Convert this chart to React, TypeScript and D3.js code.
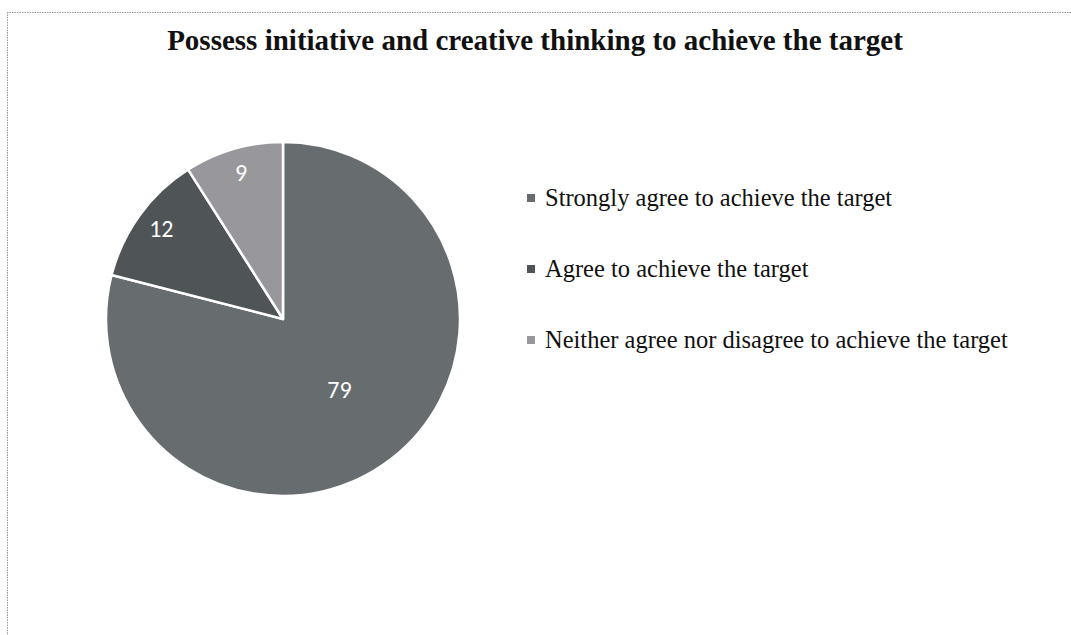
import React from "react";
import * as d3 from "d3";

const title = "Possess initiative and creative thinking to achieve the target";
const categories = [
  "Strongly agree to achieve the target",
  "Agree to achieve the target",
  "Neither agree nor disagree to achieve the target",
];
const values = [79, 12, 9];
const colors = ["#676d6f", "#4f5456", "#98989c"];

export default function App() {
  const W = 1071, H = 635;
  const cx = 283, cy = 319, r = 177;
  const pie = d3.pie<number>().sort(null).value((d) => d)(values);
  const arc = d3.arc<d3.PieArcDatum<number>>().innerRadius(0).outerRadius(r);
  const labelPos = (p: d3.PieArcDatum<number>) => {
    const lr = p.endAngle - p.startAngle > Math.PI ? r * 0.52 : r * 0.85;
    return d3.arc<d3.PieArcDatum<number>>().innerRadius(lr).outerRadius(lr).centroid(p);
  };
  const legendY = d3.scalePoint<string>().domain(categories).range([198, 340]);
  return (
    <svg width={W} height={H} style={{ position: "absolute", left: 0, top: 0, background: "#fff" }}>
      <line x1={7} y1={12.5} x2={W} y2={12.5} stroke="#999" strokeDasharray="1.5 1" strokeWidth={1} />
      <line x1={7.5} y1={12} x2={7.5} y2={H} stroke="#999" strokeDasharray="1.5 1" strokeWidth={1} />
      <text x={535} y={50} textAnchor="middle" fontFamily="'Liberation Serif', 'Times New Roman', serif" fontWeight="bold" fontSize={29} fill="#111">
        {title}
      </text>
      <g transform={`translate(${cx},${cy})`}>
        {pie.map((p, i) => (
          <path key={i} d={arc(p) || ""} fill={colors[i]} stroke="#fff" strokeWidth={2.5} strokeLinejoin="round" />
        ))}
        {pie.map((p, i) => {
          const [x, y] = labelPos(p);
          return (
            <text key={i} x={x} y={y - 2} dy="0.35em" textAnchor="middle" fill="#fff" fontFamily="Carlito, 'Open Sans', 'DejaVu Sans', sans-serif" fontSize={24}>
              {values[i]}
            </text>
          );
        })}
      </g>
      {categories.map((c, i) => (
        <g key={c} transform={`translate(0,${legendY(c)})`}>
          <rect x={527} y={-4} width={8} height={8} fill={colors[i]} />
          <text x={545} y={0} dy="0.33em" fontFamily="'Liberation Serif', 'Times New Roman', serif" fontSize={24.5} fill="#111">
            {c}
          </text>
        </g>
      ))}
    </svg>
  );
}
